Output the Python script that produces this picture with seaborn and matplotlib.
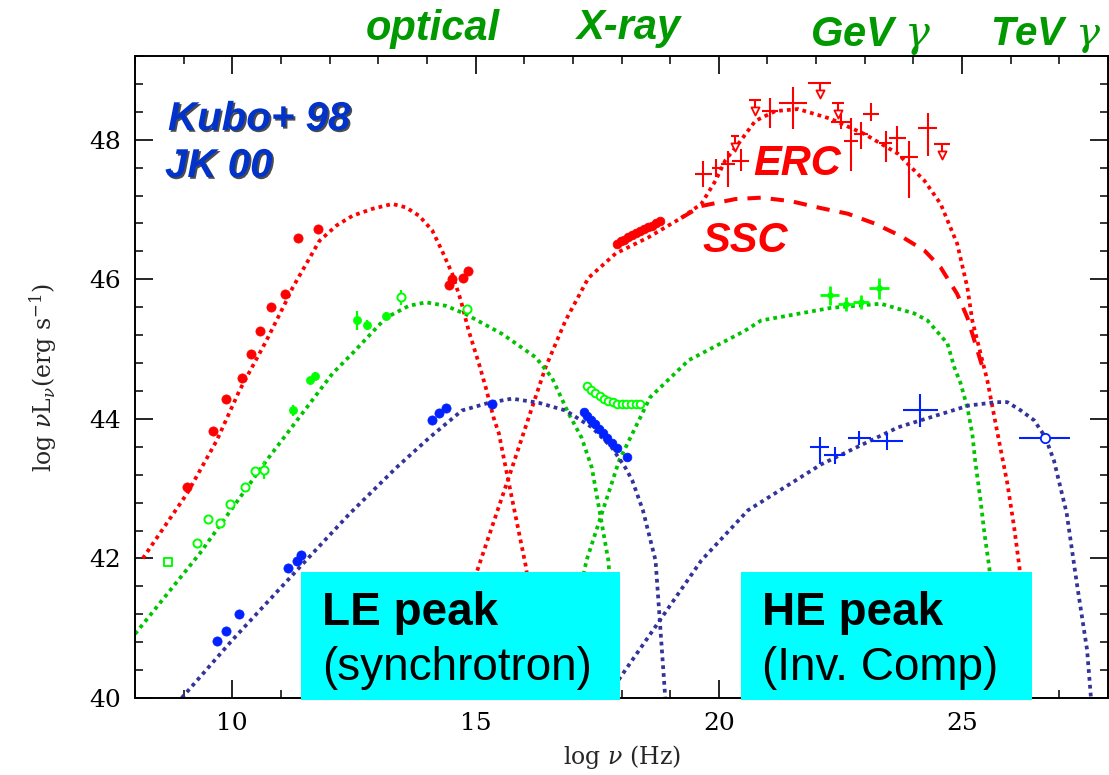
import matplotlib
matplotlib.use("Agg")
import matplotlib.pyplot as plt
import matplotlib.patheffects as pe
from matplotlib.patches import Rectangle
from matplotlib.ticker import MultipleLocator
import numpy as np
import seaborn as sns

# ---------------- model curves (log nu [Hz], log nu L_nu [erg/s]) ----------------
red_sync_x = [8.16, 9.07, 9.68, 10.15, 10.70, 11.11, 11.24, 11.79, 12.14, 12.47, 12.88, 13.29,
              13.57, 13.84, 14.11, 14.31, 14.52, 14.70, 14.86, 15.07, 15.21, 15.37, 15.48,
              15.62, 16.03, 16.20, 16.36]
red_sync_y = [42.00, 42.93, 43.69, 44.41, 45.12, 45.69, 45.88, 46.55, 46.77, 46.91, 47.01, 47.08,
              47.03, 46.91, 46.70, 46.41, 46.08, 45.69, 45.26, 44.79, 44.45, 44.02, 43.79,
              43.30, 41.90, 41.12, 40.00]

red_erc_x = [14.19, 15.07, 15.75, 16.16, 16.44, 16.85, 17.32, 17.88, 18.55, 19.23, 19.64, 19.93,
             20.13, 20.40, 20.75, 21.16, 21.63, 22.30, 23.00, 23.68, 24.23, 24.56, 24.90, 25.11,
             25.21, 25.52, 25.73, 25.93, 26.07, 26.18, 26.38]
red_erc_y = [40.00, 41.90, 43.30, 44.16, 44.74, 45.41, 46.02, 46.37, 46.60, 46.88, 47.08, 47.41,
             47.70, 47.94, 48.27, 48.41, 48.44, 48.30, 48.08, 47.80, 47.41, 47.08, 46.51, 45.88,
             45.41, 44.55, 43.79, 43.08, 42.45, 41.87, 40.00]

red_ssc_x = [19.23, 19.64, 20.34, 20.87, 21.48, 22.10, 22.65, 23.20, 23.74, 24.23, 24.56, 24.90,
             25.11, 25.46]
red_ssc_y = [46.88, 47.05, 47.15, 47.17, 47.12, 47.02, 46.94, 46.80, 46.62, 46.41, 46.17, 45.79,
             45.45, 44.65]

green_sync_x = [7.90, 9.33, 10.70, 12.06, 12.47, 13.16, 13.63, 13.98, 14.39, 14.80, 15.54, 16.24,
                16.57, 16.91, 17.18, 17.39, 17.73, 17.94]
green_sync_y = [40.83, 42.07, 43.40, 44.65, 44.94, 45.45, 45.62, 45.67, 45.62, 45.50, 45.22, 44.88,
                44.59, 44.08, 43.73, 43.30, 41.97, 40.00]

green_ic_x = [16.69, 17.28, 17.95, 18.59, 19.38, 20.53, 20.87, 22.30, 23.33, 24.02, 24.29, 24.70,
              24.84, 24.97, 25.11, 25.21, 25.27, 25.38, 25.46, 25.56, 25.77]
green_ic_y = [40.00, 41.97, 43.40, 44.31, 44.84, 45.26, 45.41, 45.59, 45.65, 45.51, 45.41, 45.08,
              44.74, 44.51, 44.16, 43.79, 43.40, 42.83, 42.36, 41.87, 40.00]

blue_sync_x = [8.96, 10.00, 11.38, 12.41, 13.37, 14.05, 14.72, 15.27, 15.75, 16.30, 16.85, 17.39,
               17.80, 18.08, 18.22, 18.44, 18.70, 18.90]
blue_sync_y = [40.00, 40.83, 41.87, 42.64, 43.30, 43.73, 44.12, 44.23, 44.29, 44.23, 44.12, 43.88,
               43.59, 43.30, 43.12, 42.69, 41.97, 40.00]

blue_ic_x = [17.63, 17.94, 19.64, 20.60, 22.11, 23.69, 25.13, 25.70, 25.93, 26.21, 26.48, 26.71,
             26.89, 27.15, 27.36, 27.57, 27.65]
blue_ic_y = [40.00, 40.26, 41.97, 42.69, 43.35, 43.88, 44.19, 44.24, 44.24, 44.12, 43.98, 43.74,
             43.40, 42.65, 41.64, 40.69, 40.00]

# ---------------- observed fluxes ----------------
red_pts_x = [9.07, 9.60, 9.88, 10.19, 10.38, 10.56, 10.79, 11.09, 11.36, 11.77, 14.46, 14.52, 14.74, 14.84]
red_pts_y = [43.02, 43.82, 44.29, 44.58, 44.93, 45.26, 45.61, 45.79, 46.59, 46.72, 45.92, 46.00, 46.02, 46.12]

red_xray_x = [17.90, 17.98, 18.06, 18.14, 18.22, 18.30, 18.38, 18.46, 18.54, 18.62, 18.70, 18.80]
red_xray_y = [46.50, 46.55, 46.57, 46.60, 46.63, 46.66, 46.69, 46.72, 46.75, 46.77, 46.80, 46.84]

red_gev_x = [19.68, 19.95, 20.19, 20.45, 21.05, 21.52, 22.51, 22.72, 22.92, 23.13, 23.43, 23.67, 23.91, 24.29]
red_gev_y = [47.51, 47.60, 47.65, 47.70, 48.41, 48.53, 48.25, 47.98, 48.08, 48.37, 47.96, 48.03, 47.75, 48.17]
red_gev_xerr = [0.17, 0.10, 0.15, 0.18, 0.17, 0.29, 0.20, 0.14, 0.15, 0.17, 0.14, 0.17, 0.19, 0.19]
red_gev_ylo = [0.19, 0.14, 0.33, 0.15, 0.24, 0.38, 0.10, 0.43, 0.21, 0.10, 0.28, 0.24, 0.58, 0.41]
red_gev_yhi = [0.19, 0.12, 0.19, 0.17, 0.19, 0.22, 0.15, 0.33, 0.17, 0.16, 0.17, 0.17, 0.23, 0.22]

red_ul_x = [20.33, 20.74, 22.07, 22.45, 24.59]
red_ul_y = [48.05, 48.57, 48.82, 48.53, 47.94]
red_ul_xerr = [0.08, 0.12, 0.24, 0.12, 0.17]

green_open_x = [9.27, 9.50, 9.74, 9.95, 10.27, 10.46, 10.66, 13.47, 14.82]
green_open_y = [42.22, 42.57, 42.51, 42.78, 43.02, 43.26, 43.27, 45.74, 45.58]
green_open_err = [0.0, 0.0, 0.0, 0.0, 0.0, 0.0, 0.13, 0.11, 0.0]
green_sq_x = [8.68]
green_sq_y = [41.95]
green_pts_x = [11.24, 11.59, 11.69, 12.57, 12.77, 13.16]
green_pts_y = [44.12, 44.55, 44.62, 45.41, 45.34, 45.48]
green_pts_err = [0.08, 0.05, 0.05, 0.13, 0.07, 0.05]

green_xray_x = [17.30, 17.38, 17.46, 17.55, 17.64, 17.73, 17.82, 17.91, 18.00, 18.10, 18.20, 18.30, 18.37]
green_xray_y = [44.47, 44.42, 44.37, 44.33, 44.29, 44.26, 44.24, 44.22, 44.21, 44.21, 44.22, 44.22, 44.21]

green_gev_x = [22.28, 22.61, 22.92, 23.29]
green_gev_y = [45.77, 45.65, 45.67, 45.87]
green_gev_xerr = [0.20, 0.17, 0.17, 0.20]
green_gev_yerr = [0.14, 0.10, 0.10, 0.15]

blue_pts_x = [9.68, 9.88, 10.13, 11.14, 11.34, 11.42, 14.11, 14.25, 14.39, 15.34]
blue_pts_y = [40.82, 40.96, 41.20, 41.87, 41.97, 42.05, 43.98, 44.08, 44.15, 44.22]

blue_xray_x = [17.22, 17.30, 17.38, 17.46, 17.54, 17.62, 17.70, 17.80, 17.90, 18.12]
blue_xray_y = [44.10, 44.04, 43.98, 43.92, 43.86, 43.80, 43.73, 43.65, 43.58, 43.45]

blue_gev_x = [22.07, 22.38, 22.89, 23.46, 24.14, 26.70]
blue_gev_y = [43.60, 43.48, 43.73, 43.68, 44.12, 43.73]
blue_gev_xerr = [0.19, 0.21, 0.24, 0.33, 0.36, 0.52]
blue_gev_ylo = [0.24, 0.12, 0.10, 0.12, 0.24, 0.05]
blue_gev_yhi = [0.14, 0.12, 0.10, 0.12, 0.24, 0.05]

band_labels = ["optical", "X-ray", "GeV $\\gamma$", "TeV $\\gamma$"]
x_ticks = [10, 15, 20, 25]
y_ticks = [40, 42, 44, 46, 48]

# ---------------- styling ----------------
RED = "#ff0000"
GREEN_LINE = "#00c400"
GREEN_PT = "#00ff00"
NAVY = "#333399"
BLUE_PT = "#0022ff"
BAND_GREEN = "#009a00"
DOT = (0, (1, 1.1))

sns.set_theme(style="ticks")
plt.rcParams["font.family"] = ["DejaVu Serif"]
plt.rcParams["mathtext.fontset"] = "dejavuserif"

W, H = 1109, 775
fig = plt.figure(figsize=(W / 100, H / 100), dpi=100)
fig.patch.set_facecolor("white")
ax = fig.add_axes([135 / W, 77 / H, 973 / W, 642 / H])
ax.set_facecolor("white")


def fxy(px, py):
    return px / W, 1 - py / H


def curve(x, y, color, ls, lw=2.7):
    sns.lineplot(x=x, y=y, ax=ax, color=color, linestyle=ls, linewidth=lw,
                 sort=False, estimator=None, legend=False, zorder=2)


curve(red_sync_x, red_sync_y, RED, DOT)
curve(red_erc_x, red_erc_y, RED, DOT)
curve(red_ssc_x, red_ssc_y, RED, (0, (3.3, 2.5)), lw=2.9)
curve(green_sync_x, green_sync_y, GREEN_LINE, DOT)
curve(green_ic_x, green_ic_y, GREEN_LINE, DOT)
curve(blue_sync_x, blue_sync_y, NAVY, DOT)
curve(blue_ic_x, blue_ic_y, NAVY, DOT)

# synchrotron-range photometry
sns.scatterplot(x=red_pts_x, y=red_pts_y, ax=ax, color=RED, s=44, marker="o",
                edgecolor=RED, linewidth=0.5, legend=False, zorder=3)
sns.scatterplot(x=blue_pts_x, y=blue_pts_y, ax=ax, color=BLUE_PT, s=44, marker="o",
                edgecolor=BLUE_PT, linewidth=0.5, legend=False, zorder=3)
ax.errorbar(green_pts_x, green_pts_y, yerr=green_pts_err, fmt="none", ecolor=GREEN_PT,
            elinewidth=1.6, capsize=0, zorder=3)
sns.scatterplot(x=green_pts_x, y=green_pts_y, ax=ax, color=GREEN_PT, s=34, marker="o",
                edgecolor=GREEN_PT, linewidth=0.5, legend=False, zorder=3)
ax.errorbar(green_open_x, green_open_y, yerr=green_open_err, fmt="none", ecolor=GREEN_PT,
            elinewidth=1.6, capsize=0, zorder=3)
sns.scatterplot(x=green_open_x, y=green_open_y, ax=ax, color="white", s=34, marker="o",
                edgecolor=GREEN_PT, linewidth=1.4, legend=False, zorder=3)
sns.scatterplot(x=green_sq_x, y=green_sq_y, ax=ax, color="white", s=30, marker="s",
                edgecolor=GREEN_PT, linewidth=1.4, legend=False, zorder=3)

# X-ray spectra
sns.scatterplot(x=red_xray_x, y=red_xray_y, ax=ax, color=RED, s=40, marker="o",
                edgecolor=RED, linewidth=0.5, legend=False, zorder=3)
sns.scatterplot(x=blue_xray_x, y=blue_xray_y, ax=ax, color=BLUE_PT, s=40, marker="o",
                edgecolor=BLUE_PT, linewidth=0.5, legend=False, zorder=3)
sns.scatterplot(x=green_xray_x, y=green_xray_y, ax=ax, color="white", s=30, marker="o",
                edgecolor=GREEN_PT, linewidth=1.4, legend=False, zorder=3)

# gamma-ray data
ax.errorbar(red_gev_x, red_gev_y, xerr=red_gev_xerr, yerr=[red_gev_ylo, red_gev_yhi],
            fmt="none", ecolor=RED, elinewidth=1.5, capsize=0, zorder=4)
ul_len = 0.16
ax.errorbar(red_ul_x, red_ul_y, xerr=red_ul_xerr,
            yerr=[[ul_len] * len(red_ul_x), [0] * len(red_ul_x)],
            fmt="none", ecolor=RED, elinewidth=1.5, capsize=0, zorder=4)
sns.scatterplot(x=red_ul_x, y=np.array(red_ul_y) - ul_len, ax=ax, color="white", s=34,
                marker="v", edgecolor=RED, linewidth=1.3, legend=False, zorder=4)

ax.errorbar(green_gev_x, green_gev_y, xerr=green_gev_xerr, yerr=green_gev_yerr,
            fmt="none", ecolor=GREEN_PT, elinewidth=2.0, capsize=0, zorder=4)
sns.scatterplot(x=green_gev_x, y=green_gev_y, ax=ax, color=GREEN_PT, s=22, marker="o",
                edgecolor=GREEN_PT, linewidth=0, legend=False, zorder=4)

ax.errorbar(blue_gev_x, blue_gev_y, xerr=blue_gev_xerr, yerr=[blue_gev_ylo, blue_gev_yhi],
            fmt="none", ecolor=BLUE_PT, elinewidth=1.5, capsize=0, zorder=4)
sns.scatterplot(x=blue_gev_x[-1:], y=blue_gev_y[-1:], ax=ax, color="white", s=45, marker="o",
                edgecolor=BLUE_PT, linewidth=1.3, legend=False, zorder=4)

# ---------------- axes ----------------
ax.set_xlim(8, 28)
ax.set_ylim(40, 49.2)
ax.set_xticks(x_ticks)
ax.set_yticks(y_ticks)
ax.xaxis.set_minor_locator(MultipleLocator(1))
ax.yaxis.set_minor_locator(MultipleLocator(0.4))
ax.tick_params(which="both", direction="in", top=True, right=True, colors="black")
ax.tick_params(which="major", length=13, width=1.2, labelsize=18)
ax.tick_params(which="minor", length=6, width=1.1)
ax.tick_params(axis="x", pad=10)
ax.tick_params(axis="y", pad=10)
for sp in ax.spines.values():
    sp.set_visible(True)
    sp.set_linewidth(1.4)
    sp.set_color("black")
ax.grid(False)
ax.set_xlabel(r"log $\nu$ (Hz)", fontsize=17, labelpad=6)
ax.set_ylabel(r"log $\nu$L$_\nu$(erg s$^{-1}$)", fontsize=17, labelpad=22)

# ---------------- annotations ----------------
sans = ["Liberation Sans", "DejaVu Sans"]
band_pos = [(366, 40), (577, 39), (810, 46), (990, 45)]
band_size = [30, 30, 30, 29]
for lab, (px, py), fs in zip(band_labels, band_pos, band_size):
    fig.text(*fxy(px, py), lab, family=sans, fontsize=fs, fontweight="bold", style="italic",
             color=BAND_GREEN, ha="left", va="baseline")

shadow = [pe.withSimplePatchShadow(offset=(1.3, -1.3), shadow_rgbFace="black", alpha=0.7)]
fig.text(*fxy(168, 130), "Kubo+ 98", family=sans, fontsize=29, fontweight="bold",
         style="italic", color="#0033cc", ha="left", va="baseline", path_effects=shadow)
fig.text(*fxy(165, 177), "JK 00", family=sans, fontsize=29, fontweight="bold",
         style="italic", color="#0033cc", ha="left", va="baseline", path_effects=shadow)

fig.text(*fxy(753, 175), "ERC", family=sans, fontsize=30, fontweight="bold", style="italic",
         color=RED, ha="left", va="baseline", zorder=5)
fig.text(*fxy(702, 252), "SSC", family=sans, fontsize=30, fontweight="bold", style="italic",
         color=RED, ha="left", va="baseline", zorder=5)

for (x0, x1), title, sub in [((301, 620), "LE peak", "(synchrotron)"),
                             ((741, 1032), "HE peak", "(Inv. Comp)")]:
    bx, by = fxy(x0, 700)
    fig.add_artist(Rectangle((bx, by), (x1 - x0) / W, 128 / H, transform=fig.transFigure,
                             facecolor="#00ffff", edgecolor="none", zorder=10))
    fig.text(*fxy(x0 + 21, 625), title, family=sans, fontsize=33, fontweight="bold",
             color="black", ha="left", va="baseline", zorder=11)
    fig.text(*fxy(x0 + 21, 680), sub, family=sans, fontsize=33, color="black",
             ha="left", va="baseline", zorder=11)

fig.savefig("out.png", dpi=100, facecolor="white")
